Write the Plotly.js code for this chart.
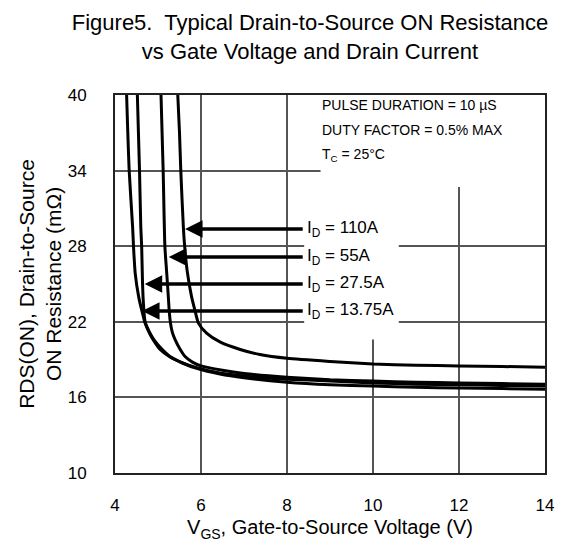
<!DOCTYPE html>
<html>
<head>
<meta charset="utf-8">
<script src="https://cdn.plot.ly/plotly-3.0.1.min.js"></script>
<style>html,body{margin:0;padding:0;background:#fff;}#chart{width:562px;height:550px;}</style>
</head>
<body>
<div id="chart"></div>
<script>
// Drain current series (A)
const seriesNames = ["I<sub>D</sub> = 110A", "I<sub>D</sub> = 55A", "I<sub>D</sub> = 27.5A", "I<sub>D</sub> = 13.75A"];

// V_GS (V) and RDS(ON) (mOhm) for each drain current
const vgs110 = [5.46, 5.50, 5.53, 5.59, 5.62, 5.68, 5.78, 5.86, 5.94, 6.13, 6.44, 6.91, 7.37, 8, 9, 10, 11, 12, 13, 14];
const rds110 = [40, 37, 34, 29.5, 28, 26, 24, 22.9, 21.9, 21.1, 20.4, 19.8, 19.4, 19.1, 18.85, 18.65, 18.55, 18.5, 18.45, 18.4];

const vgs55 = [5.07, 5.12, 5.16, 5.20, 5.24, 5.26, 5.29, 5.33, 5.40, 5.50, 5.63, 5.80, 6.0, 6.5, 7, 8, 9, 10, 11, 12, 13, 14];
const rds55 = [40, 34, 28, 26, 24, 22.9, 21.9, 21.2, 20.56, 19.9, 19.24, 18.8, 18.5, 18.15, 17.9, 17.6, 17.4, 17.3, 17.2, 17.15, 17.1, 17.05];

const vgs27 = [4.52, 4.57, 4.60, 4.62, 4.64, 4.66, 4.70, 4.80, 4.92, 5.1, 5.3, 5.6, 5.9, 6.4, 7, 8, 9, 10, 11, 12, 13, 14];
const rds27 = [40, 34, 29.5, 28, 25.1, 23.5, 22, 21.2, 20.5, 19.8, 19.2, 18.7, 18.35, 17.95, 17.7, 17.45, 17.3, 17.15, 17.05, 17.0, 16.95, 16.9];

const vgs13 = [4.27, 4.33, 4.41, 4.43, 4.47, 4.55, 4.62, 4.70, 4.80, 4.89, 5.05, 5.28, 5.55, 5.9, 6.44, 7, 8, 9, 10, 11, 12, 13, 14];
const rds13 = [40, 34, 29.5, 28, 25.85, 24, 22.94, 21.9, 21.1, 20.56, 19.8, 19.2, 18.75, 18.3, 17.85, 17.55, 17.2, 17.0, 16.9, 16.8, 16.75, 16.7, 16.65];

// label placement (arrow tip on curve, label R level)
const labelR = [29.37, 27.14, 25.0, 22.86];
const arrowTipV = [5.63, 5.25, 4.69, 4.63];
const labelV = 8.4;

const xTicks = [4, 6, 8, 10, 12, 14];
const yTicks = [10, 16, 22, 28, 34, 40];

const conditions = ["PULSE DURATION = 10 µS", "DUTY FACTOR = 0.5% MAX", "T<sub>C</sub> = 25°C"];

const FONT = "'Liberation Sans', Arial, sans-serif";

const xs = [vgs110, vgs55, vgs27, vgs13];
const ys = [rds110, rds55, rds27, rds13];
const traces = xs.map((x, i) => ({
  x: x, y: ys[i], type: 'scatter', mode: 'lines', name: seriesNames[i],
  line: {color: '#000', width: 3, shape: 'spline', smoothing: 0.6},
  hoverinfo: 'skip'
}));

const annotations = [];
seriesNames.forEach((n, i) => {
  annotations.push({x: arrowTipV[i], y: labelR[i], ax: labelV, ay: labelR[i], axref: 'x', ayref: 'y', xref: 'x', yref: 'y',
    text: '', showarrow: true, arrowhead: 2, arrowsize: 1, arrowwidth: 3.5, arrowcolor: '#000', standoff: 0});
  annotations.push({x: labelV + 0.02, y: labelR[i], xref: 'x', yref: 'y', text: n, showarrow: false,
    xanchor: 'left', yanchor: 'middle', font: {family: FONT, size: 17, color: '#000'}});
});
conditions.forEach((c, i) => {
  annotations.push({x: 8.77, y: 39.2 - i * 2.0, xref: 'x', yref: 'y', text: c, showarrow: false,
    xanchor: 'left', yanchor: 'middle', font: {family: FONT, size: 14, color: '#000'}});
});

// grid gaps (white patches between gridlines and traces)
const gapRects = [
  [8.78, 14, 33.6, 34.4],
  [9.9, 10.1, 20.6, 40],
  [11.9, 12.1, 32.7, 40],
  [8.4, 10.6, 27.6, 28.4],
  [8.4, 10.6, 21.6, 22.4]
];
const shapes = gapRects.map(r => ({type: 'rect', xref: 'x', yref: 'y', x0: r[0], x1: r[1], y0: r[2], y1: r[3],
  fillcolor: '#fff', line: {width: 0}, layer: 'between'}));

const layout = {
  width: 562, height: 550,
  margin: {l: 115, r: 17, t: 95, b: 77},
  paper_bgcolor: '#fff', plot_bgcolor: '#fff',
  showlegend: false,
  font: {family: FONT, color: '#000'},
  xaxis: {
    range: [4, 14], tickvals: xTicks, ticktext: xTicks.map(String),
    showgrid: true, gridcolor: '#555', gridwidth: 2, zeroline: false,
    showline: true, linecolor: '#222', linewidth: 2, mirror: true,
    ticks: 'outside', ticklen: 16, tickcolor: 'rgba(0,0,0,0)',
    tickfont: {family: FONT, size: 17, color: '#000'},
    title: {text: 'V<sub>GS</sub>, Gate-to-Source Voltage (V)', font: {family: FONT, size: 20, color: '#000'}, standoff: 6}
  },
  yaxis: {
    range: [10, 40], tickvals: yTicks, ticktext: yTicks.map(String),
    showgrid: true, gridcolor: '#555', gridwidth: 2, zeroline: false,
    showline: true, linecolor: '#222', linewidth: 2, mirror: true,
    ticks: 'outside', ticklen: 23, tickcolor: 'rgba(0,0,0,0)',
    tickfont: {family: FONT, size: 17, color: '#000'},
    title: {text: 'RDS(ON), Drain-to-Source<br>ON Resistance (mΩ)', font: {family: FONT, size: 21, color: '#000'}, standoff: 0}
  },
  title: {text: 'Figure5.\u00a0 Typical Drain-to-Source ON Resistance<br>vs Gate Voltage and Drain Current',
    x: 310 / 562, xanchor: 'center', xref: 'container',
    y: 1 - 30 / 550, yanchor: 'middle', yref: 'container', font: {family: FONT, size: 22, color: '#000'}},
  annotations: annotations,
  shapes: shapes
};

Plotly.newPlot('chart', traces, layout, {staticPlot: true});
</script>
</body>
</html>
